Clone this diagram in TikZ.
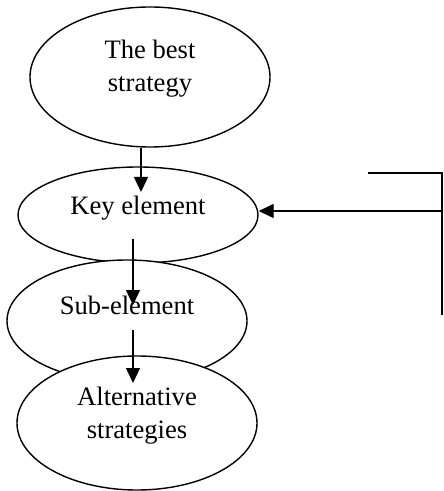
\documentclass[tikz,border=0pt]{standalone}
\usepackage{fontspec}
\setmainfont{Liberation Serif}
\usetikzlibrary{shapes.geometric,arrows.meta}

\begin{document}
\begin{tikzpicture}[x=0.5pt, y=-0.5pt, line width=0.7pt,
	every node/.style={font=\fontsize{13.3}{16.5}\selectfont},
	oval/.style={draw, ellipse, fill=white, inner sep=0pt, minimum width=120pt},
	arr/.style={-{Triangle[length=7.5pt,width=7pt]}}]
	\useasboundingbox (0,0) rectangle (443,491);
	% the four ovals, each one over the one before
	\node[oval, minimum height=70pt, label={[yshift=4pt, align=center]center:The best\\strategy}] (best) at (150,77) {};
	\node[oval, minimum height=48pt, label={[yshift=3.5pt]center:Key element}] (key) at (138,215) {};
	\node[oval, minimum height=61pt, label={[yshift=8pt]center:Sub-element}] (sub) at (127,321) {};
	\node[oval, minimum height=67pt, label={[yshift=3.5pt, align=center]center:Alternative\\strategies}] (alt) at (137,423) {};
	% free ends of the arrows
	\coordinate (k1) at (141,192);
	\coordinate (s0) at (133,239);
	\coordinate (s1) at (133,305);
	\coordinate (a0) at (133,330);
	\coordinate (a1) at (133,383);
	\coordinate (r0) at (368,173);
	\coordinate (r1) at (442,211);
	\coordinate (r2) at (442,315);
	\draw[arr] (best.south -| k1) -- (k1);
	\draw[arr] (s0) -- (s1);
	\draw[arr] (a0) -- (a1);
	\draw (r0) -| (r2);
	\draw[arr] (r1) -- (r1 -| key.east);
\end{tikzpicture}
\end{document}
